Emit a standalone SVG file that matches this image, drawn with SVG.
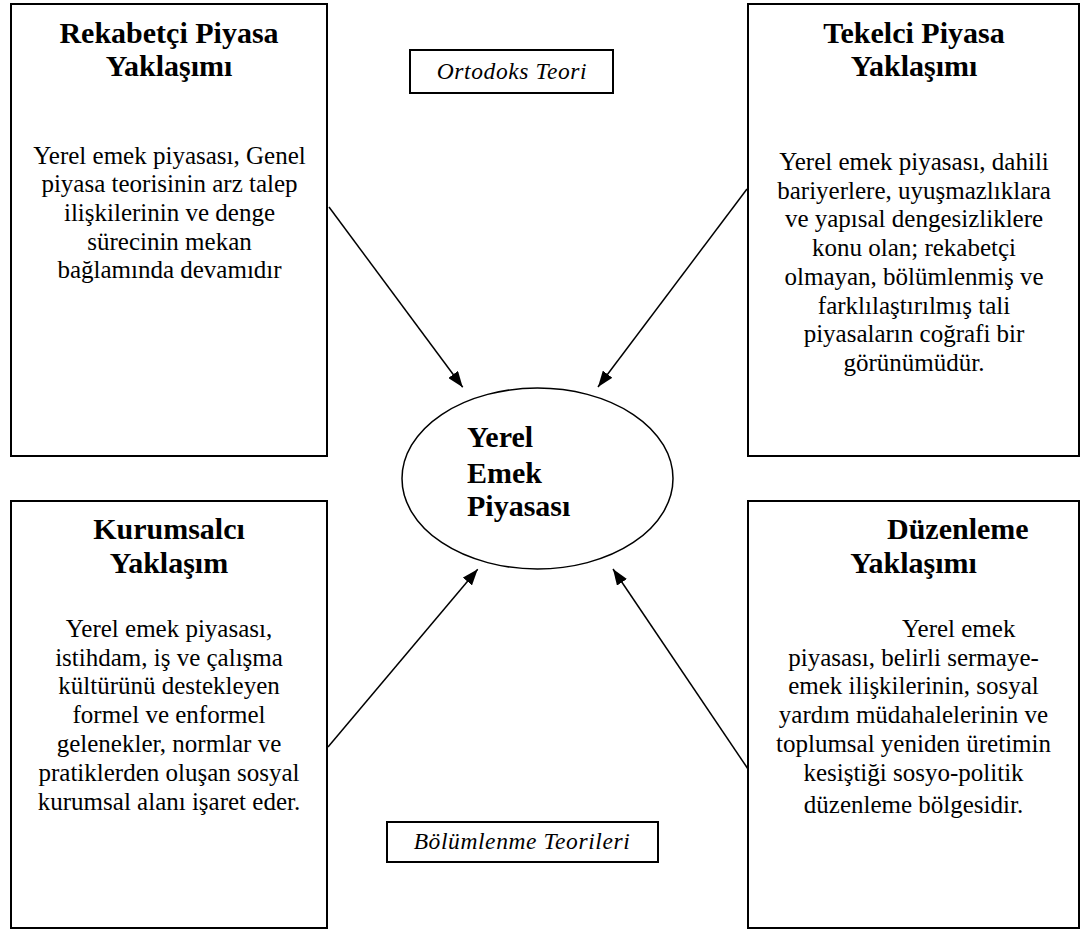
<svg xmlns="http://www.w3.org/2000/svg" width="1081" height="930" viewBox="0 0 1081 930">
<style>
.box{fill:#fff;stroke:#000;stroke-width:2}
.t{font-family:"Liberation Serif","Times New Roman",serif;font-size:30px;font-weight:bold;fill:#000;text-anchor:middle}
.b{font-family:"Liberation Serif","Times New Roman",serif;font-size:25px;fill:#000;text-anchor:middle}
.i{font-family:"Liberation Serif","Times New Roman",serif;font-size:23.5px;font-style:italic;fill:#000;text-anchor:middle;letter-spacing:0.6px}
.c{stroke:#000;stroke-width:1.5;fill:none;marker-end:url(#ah)}
</style>
<defs>
<marker id="ah" viewBox="0 0 16 12" refX="16" refY="6" markerWidth="16" markerHeight="12" markerUnits="userSpaceOnUse" orient="auto">
<path d="M0,0 L16,6 L0,12 Z" fill="#000"/>
</marker>
</defs>
<rect width="1081" height="930" fill="#fff"/>

<g id="connectors">
<line class="c" x1="329" y1="207" x2="462.7" y2="387.3"/>
<line class="c" x1="747" y1="189" x2="598" y2="387"/>
<line class="c" x1="328" y1="747" x2="477.7" y2="569.3"/>
<line class="c" x1="748" y1="769" x2="613" y2="569"/>
</g>

<g id="node-rekabetci">
<rect class="box" x="11" y="4" width="316" height="452"/>
<text class="t" x="169" y="43">Rekabetçi Piyasa</text>
<text class="t" x="169" y="76">Yaklaşımı</text>
<text class="b" x="169.5" y="163.5">Yerel emek piyasası, Genel</text>
<text class="b" x="169.5" y="192.2">piyasa teorisinin arz talep</text>
<text class="b" x="169.5" y="220.9">ilişkilerinin ve denge</text>
<text class="b" x="169.5" y="249.6">sürecinin mekan</text>
<text class="b" x="169.5" y="278.3">bağlamında devamıdır</text>
</g>

<g id="node-tekelci">
<rect class="box" x="748" y="4" width="331" height="452"/>
<text class="t" x="914" y="43">Tekelci Piyasa</text>
<text class="t" x="914" y="76">Yaklaşımı</text>
<text class="b" x="914" y="170">Yerel emek piyasası, dahili</text>
<text class="b" x="914" y="198.7">bariyerlere, uyuşmazlıklara</text>
<text class="b" x="914" y="227.4">ve yapısal dengesizliklere</text>
<text class="b" x="914" y="256.1">konu olan; rekabetçi</text>
<text class="b" x="914" y="284.8">olmayan, bölümlenmiş ve</text>
<text class="b" x="914" y="313.5">farklılaştırılmış tali</text>
<text class="b" x="914" y="342.2">piyasaların coğrafi bir</text>
<text class="b" x="914" y="370.9">görünümüdür.</text>
</g>

<g id="node-kurumsalci">
<rect class="box" x="11" y="501" width="316" height="427"/>
<text class="t" x="169" y="539">Kurumsalcı</text>
<text class="t" x="169" y="572.7">Yaklaşım</text>
<text class="b" x="169" y="636.7">Yerel emek piyasası,</text>
<text class="b" x="169" y="665.5">istihdam, iş ve çalışma</text>
<text class="b" x="169" y="694.3">kültürünü destekleyen</text>
<text class="b" x="169" y="723.2">formel ve enformel</text>
<text class="b" x="169" y="752.1">gelenekler, normlar ve</text>
<text class="b" x="169" y="781">pratiklerden oluşan sosyal</text>
<text class="b" x="169" y="809.8">kurumsal alanı işaret eder.</text>
</g>

<g id="node-duzenleme">
<rect class="box" x="748" y="501" width="331" height="427"/>
<text class="t" x="887" y="539" style="text-anchor:start">Düzenleme</text>
<text class="t" x="913.5" y="572.7">Yaklaşımı</text>
<text class="b" x="902" y="636.7" style="text-anchor:start">Yerel emek</text>
<text class="b" x="913.5" y="665.5">piyasası, belirli sermaye-</text>
<text class="b" x="913.5" y="694.3">emek ilişkilerinin, sosyal</text>
<text class="b" x="913.5" y="723.2">yardım müdahalelerinin ve</text>
<text class="b" x="913.5" y="752.1">toplumsal yeniden üretimin</text>
<text class="b" x="913.5" y="781">kesiştiği sosyo-politik</text>
<text class="b" x="913.5" y="813">düzenleme bölgesidir.</text>
</g>

<g id="node-yerel">
<ellipse cx="537.5" cy="478.5" rx="135.5" ry="90.5" fill="#fff" stroke="#000" stroke-width="1.5"/>
<text class="t" x="467" y="447" style="text-anchor:start">Yerel</text>
<text class="t" x="467" y="483" style="text-anchor:start">Emek</text>
<text class="t" x="467" y="516" style="text-anchor:start">Piyasası</text>
</g>

<g id="label-ortodoks">
<rect class="box" x="410" y="50" width="203" height="43" stroke-width="1.5"/>
<text class="i" x="512" y="79">Ortodoks Teori</text>
</g>

<g id="label-bolumlenme">
<rect class="box" x="387" y="822" width="271" height="40" stroke-width="1.5"/>
<text class="i" x="522" y="849">Bölümlenme Teorileri</text>
</g>
</svg>
